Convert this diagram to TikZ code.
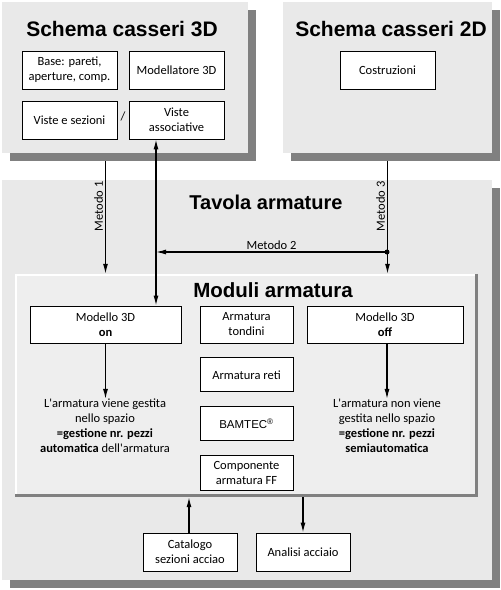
\documentclass[tikz,border=0pt]{standalone}
\usepackage{fontspec}
\setmainfont{Carlito}[Ligatures=TeXOff]
\newfontfamily\headfont{Liberation Sans}
\usepackage{tikz}
\usetikzlibrary{arrows.meta,positioning,shadows}
\usepackage{xcolor}
\definecolor{panelgray}{HTML}{E9E9E9}
\definecolor{modgray}{HTML}{EEEEEE}
\definecolor{shadowgray}{HTML}{808080}

\begin{document}
\begin{tikzpicture}[
  x=1pt, y=-1pt,
  node distance=14pt and 14pt,
  font=\fontsize{12.5}{15}\selectfont,
  panel/.style={fill=panelgray, inner sep=0pt,
    drop shadow={shadow xshift=8pt, shadow yshift=-8pt, opacity=1, fill=shadowgray}},
  head/.style={font=\headfont\bfseries\fontsize{21}{24}\selectfont, inner sep=0pt},
  box/.style={draw, fill=white, align=center, inner sep=2pt, line width=0.9pt,
    minimum width=95pt, minimum height=38pt},
  sidebox/.style={box, minimum width=93pt, minimum height=34pt},
  note/.style={align=center, inner sep=0pt},
  flow/.style={-{Latex[length=10pt,width=5pt]}, line width=1.2pt},
  flowboth/.style={{Latex[length=10pt,width=5pt]}-{Latex[length=10pt,width=5pt]}, line width=1.2pt},
  mlabel/.style={font=\fontsize{12.5}{14}\selectfont, inner sep=2pt}
]
\useasboundingbox (0,0) rectangle (501,590);

% main panels
\node[panel, minimum width=490pt, minimum height=400pt] (tav) at (247,380) {};
\node[panel, minimum width=246pt, minimum height=151pt] (p3d) at (125,77.5) {};
\node[panel, minimum width=209pt, minimum height=151pt] (p2d) at (387.5,77.5) {};
\node[fill=modgray, inner sep=0pt, minimum width=463pt, minimum height=223pt] (mod) at (246.5,385.5) {};
\draw[white, line width=2pt] ([xshift=1pt]mod.south west) -- ([xshift=1pt,yshift=-1pt]mod.north west) -- ([yshift=-1pt]mod.north east);
\draw[shadowgray, line width=3pt] ([xshift=-1.5pt]mod.north east) -- ([xshift=-1.5pt,yshift=1.5pt]mod.south east) -- ([yshift=1.5pt]mod.south west);

% titles
\node[head] (t3d) at (122,29) {Schema casseri 3D};
\node[head] (t2d) at (391,29) {Schema casseri 2D};
\node[head, font=\headfont\bfseries\fontsize{20}{24}\selectfont] (ttav) at (266,202) {Tavola armature};
\node[head, font=\headfont\bfseries\fontsize{20.5}{24}\selectfont] (tmod) at (273,290) {Moduli armatura};

% Schema casseri 3D
\node[box] (base) at (69.5,70) {Base: pareti,\\aperture, comp.};
\node[box] (modl) at (176.5,70) {Modellatore 3D};
\node[box] (viste) at (69.5,120) {Viste e sezioni};
\node[box] (vass) at (176.5,120) {Viste\\associative};
\node[inner sep=0pt] (slash) at (123,116) {/};

% Schema casseri 2D
\node[box] (costr) at (387.5,70) {Costruzioni};

% Moduli armatura
\node[box, minimum width=151pt, minimum height=37pt] (mon) at (105.5,324.5) {Modello 3D\\\textbf{on}};
\node[box, minimum width=156pt, minimum height=37pt] (moff) at (385,324.5) {Modello 3D\\\textbf{off}};
\node[sidebox, minimum height=37pt] (tond) at (246.5,324.5) {Armatura\\tondini};
\node[sidebox, below=of tond] (reti) {Armatura reti};
\node[sidebox, below=of reti] (bamt) {{\headfont\fontsize{11.5}{14}\selectfont BAMTEC\textsuperscript{\textregistered}}};
\node[sidebox, minimum height=35pt, below=of bamt] (ff) {Componente\\armatura FF};
\node[note] (ton) at (105,426) {L'armatura viene gestita\\nello spazio\\\textbf{=gestione nr. pezzi}\\\textbf{automatica} dell'armatura};
\node[note] (toff) at (387,426) {L'armatura non viene\\gestita nello spazio\\\textbf{=gestione nr. pezzi}\\\textbf{semiautomatica}};

% bottom boxes
\node[box, minimum width=94pt] (cat) at (190,552) {Catalogo\\sezioni acciao};
\node[box, minimum width=94pt] (ana) at (303,552) {Analisi acciaio};

% connectors
\coordinate (c2) at (156,0);
\coordinate (m2) at (387,252);
\draw[flow] ([yshift=-8pt]p3d.south -| mon.north) -- (mon.north |- mod.north)
  node[mlabel, rotate=90, anchor=south, pos=.4] {Metodo 1};
\draw[flowboth] (vass.south -| c2) -- (mon.north -| c2);
\draw[flow] ([yshift=-8pt]p2d.south) -- (p2d.south |- mod.north)
  node[mlabel, rotate=90, anchor=south, pos=.4] {Metodo 3};
\fill (m2) circle (2.5pt);
\draw[flow] (m2) -- (m2 -| c2) node[mlabel, midway, above] {Metodo 2};
\draw[flow] (mon.south) -- (mon.south |- ton.north);
\draw[flow] (moff.south -| toff.north) -- (toff.north);
\draw[flow] (cat.north -| 189,0) -- (mod.south -| 189,0);
\draw[flow] (mod.south -| ana.north) -- (ana.north);
\end{tikzpicture}
\end{document}
